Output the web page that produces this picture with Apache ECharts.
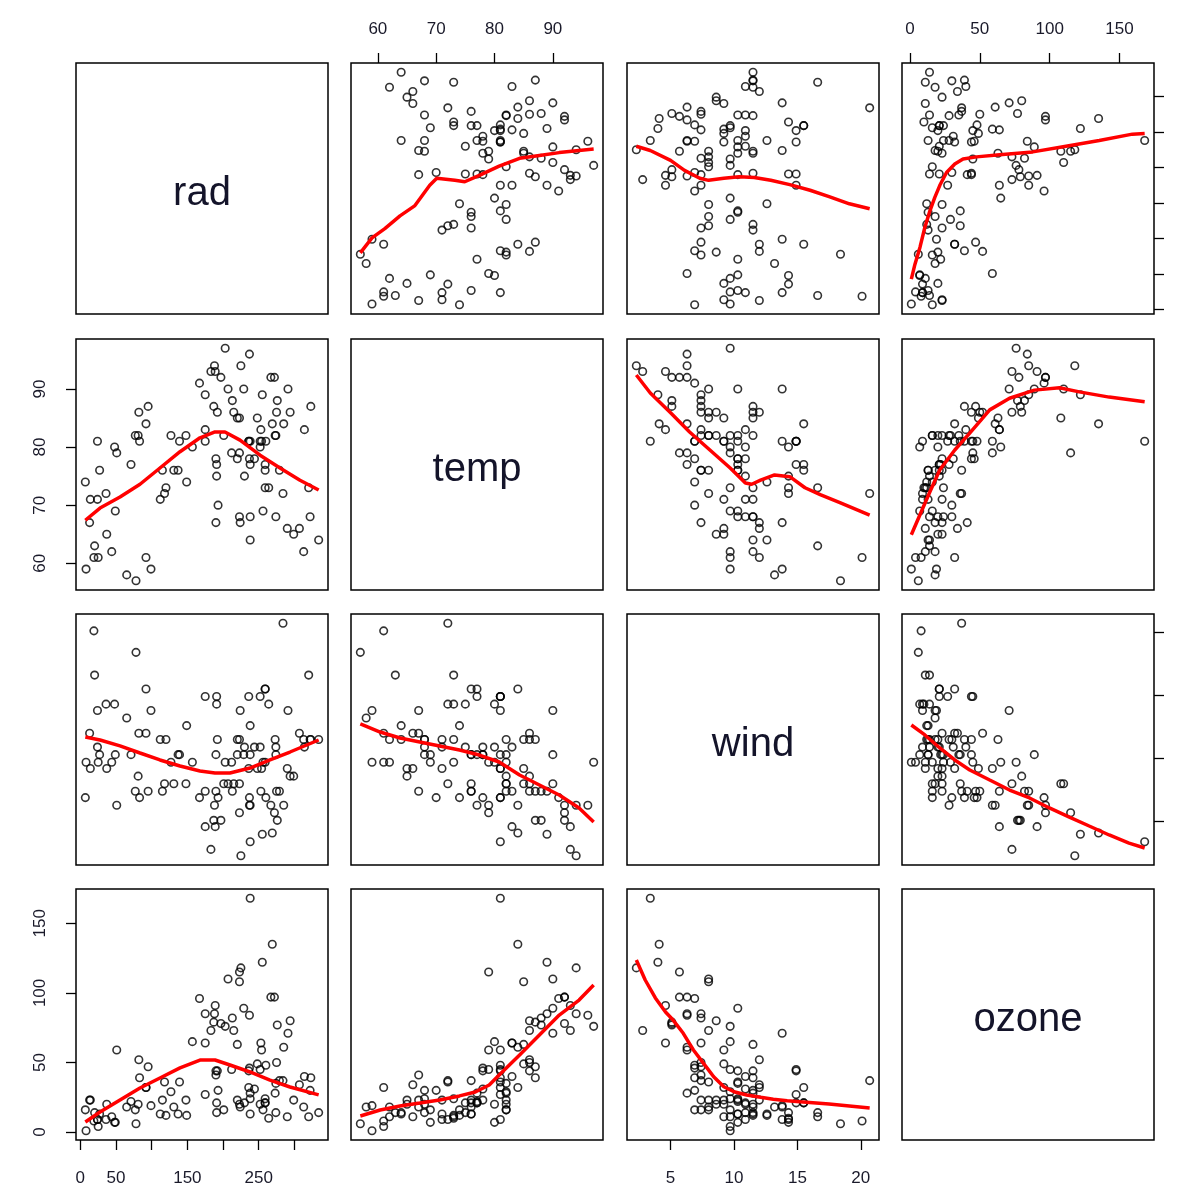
<!DOCTYPE html>
<html><head><meta charset="utf-8">
<script src="https://cdn.jsdelivr.net/npm/echarts@6/dist/echarts.min.js"></script>
<style>html,body{margin:0;padding:0;background:#fff}#c{width:1180px;height:1187px}</style>
</head><body><div id="c"></div>
<script>
// ---- data (111 complete observations) ----
const varNames = ['rad', 'temp', 'wind', 'ozone'];
const rad = [190,118,149,313,299,99,19,256,290,274,65,334,307,78,322,44,8,320,25,92,13,252,223,279,127,291,323,148,191,284,37,120,137,269,248,236,175,314,276,267,272,175,264,175,48,260,274,285,187,220,7,294,223,81,82,213,275,253,254,83,24,77,255,229,207,192,273,157,71,51,115,244,190,259,36,212,238,215,203,225,237,188,167,197,183,189,95,92,252,220,230,259,236,259,238,24,112,237,224,27,238,201,238,14,139,49,20,193,191,131,223];
const temp = [67,72,74,62,65,59,61,69,66,68,58,64,66,57,68,62,59,73,61,61,67,81,79,76,82,90,87,82,77,72,65,73,76,84,85,81,83,83,88,92,92,89,73,81,80,81,82,84,87,85,74,86,85,82,86,88,86,83,81,81,81,82,89,90,90,86,82,80,77,79,76,78,78,77,72,79,81,86,97,94,96,94,91,92,93,93,87,84,80,78,75,73,81,76,77,71,71,78,67,76,68,82,64,71,81,69,63,70,75,76,68];
const wind = [7.4,8.0,12.6,11.5,8.6,13.8,20.1,9.7,9.2,10.9,13.2,11.5,12.0,18.4,11.5,9.7,9.7,16.6,9.7,12.0,12.0,14.9,5.7,7.4,9.7,13.8,11.5,8.0,14.9,20.7,9.2,11.5,10.3,4.1,9.2,9.2,4.6,10.9,5.1,6.3,5.7,7.4,14.3,14.9,14.3,6.9,10.3,6.3,5.1,11.5,6.9,8.6,8.0,8.6,12.0,7.4,7.4,7.4,9.2,6.9,13.8,7.4,4.0,10.3,8.0,11.5,11.5,9.7,10.3,6.3,7.4,10.9,10.3,15.5,14.3,9.7,3.4,8.0,9.7,2.3,6.3,6.3,6.9,5.1,2.8,4.6,7.4,15.5,10.9,10.3,10.9,9.7,14.9,15.5,6.3,10.9,11.5,6.9,13.8,10.3,10.3,8.0,12.6,9.2,10.3,10.3,16.6,6.9,14.3,8.0,11.5];
const ozone = [41,36,12,18,23,19,8,16,11,14,18,14,34,6,30,11,1,11,4,32,23,45,115,37,29,71,39,23,21,37,20,12,13,135,49,32,64,40,77,97,97,85,10,27,7,48,35,61,79,63,16,80,108,20,52,82,50,64,59,39,9,16,122,89,110,44,28,65,22,59,23,31,44,21,9,45,168,73,76,118,84,85,96,78,73,91,47,32,20,23,21,24,44,21,28,9,13,46,18,13,24,16,13,23,36,7,14,30,14,18,20];

// ---- tick values / labels ----
const radTicks = [0, 50, 100, 150, 200, 250, 300];
const radLabels = [0, 50, 150, 250];
const tempTicks = [60, 70, 80, 90];
const windTicks = [5, 10, 15, 20];
const ozoneTicks = [0, 50, 100, 150];

// ---- smoother lines: [x, y] ----
const smoothY_rad_X_temp = [[57,80],[59,101],[61.2,114],[63.8,132],[66.3,146],[68.9,175],[70.1,185],[73.2,182],[74.9,180],[77.4,189],[80.8,202],[84.3,213],[87.7,217],[91.1,221],[94.5,224],[97,226]];
const smoothY_rad_X_wind = [[2.3,230],[3.4,224],[5.0,210],[6.1,196],[7.3,185],[8.0,182],[9.2,185],[10.4,187],[11.6,186],[12.9,182],[14.4,176],[16.0,168],[17.5,159],[19.1,149],[20.7,142]];
const smoothY_rad_X_ozone = [[1,43],[3.6,64],[7.2,88],[10.7,116],[14.3,139],[17.8,158],[21.4,175],[26.2,193],[32.1,205],[38,212],[47.6,215],[64.2,218],[87.9,222],[111.7,230],[135.5,238],[159.2,247],[168,248]];
const smoothY_temp_X_rad = [[7,67.4],[27.6,69.5],[55.6,71.4],[83.6,73.6],[111.6,76.4],[139.7,79.2],[167.7,81.6],[188.7,82.6],[202.7,82.6],[223.8,81.2],[251.9,78.6],[279.8,76.4],[307.8,74.3],[334,72.6]];
const smoothY_temp_X_wind = [[2.3,92.4],[3.4,89.3],[5.0,85.9],[6.5,82.6],[8.1,79.5],[9.7,76.4],[10.9,73.8],[11.4,73.6],[12.1,74.3],[13.2,75.2],[14.4,74.9],[15.6,73.0],[16.8,71.8],[18.4,70.4],[20.7,68.3]];
const smoothY_temp_X_ozone = [[1,64.9],[7.1,68.3],[14.3,72.3],[21.4,76.1],[32.1,79.5],[42.8,82.4],[57.1,86.4],[71.3,88.4],[89.1,89.8],[107,90.2],[121.2,89.5],[142.6,88.6],[168,87.8]];
const smoothY_wind_X_rad = [[7,11.7],[27.6,11.46],[55.6,10.99],[83.6,10.43],[111.6,9.88],[139.7,9.4],[167.7,9.01],[188.7,8.85],[209.7,8.85],[237.8,9.24],[265.8,9.88],[293.8,10.51],[334,11.46]];
const smoothY_wind_X_temp = [[57,12.73],[60.4,12.09],[63.8,11.62],[67.2,11.3],[70.6,10.99],[74,10.67],[77.4,10.27],[80.8,9.72],[84.3,8.69],[87.7,7.9],[91.1,7.11],[94.5,6.08],[97,4.97]];
const smoothY_wind_X_ozone = [[1,12.65],[10.7,11.86],[21.4,10.83],[32.1,9.88],[42.8,9.09],[57.1,8.29],[71.3,7.5],[85.6,6.87],[99.8,6.08],[114.1,5.36],[128.3,4.65],[142.6,3.94],[156.8,3.29],[168,2.91]];
const smoothY_ozone_X_rad = [[7,7.3],[27.6,14.4],[55.6,23.1],[83.6,31.7],[111.6,38.9],[139.7,46.1],[167.7,51.8],[188.7,51.8],[209.7,48.2],[237.8,43.2],[265.8,37.4],[293.8,32.4],[334,26.7]];
const smoothY_ozone_X_temp = [[57,11.6],[60.4,15.9],[63.8,18.8],[67.2,20.9],[70.6,23.1],[74,26],[76.7,28.8],[79.1,33.8],[80.8,41],[84.3,55.4],[87.7,69.8],[91.1,84.1],[94.5,94.9],[97,105.7]];
const smoothY_ozone_X_wind = [[2.3,123.7],[3.0,109.3],[3.8,96.4],[4.6,86.3],[5.2,80.5],[6.0,71],[6.8,59],[7.6,49.4],[8.4,39.8],[9.2,32.6],[10.0,29],[11.0,26.7],[12.1,25],[13.1,23.6],[14.2,22.6],[15.2,21.8],[17.5,20.2],[20.7,17.3]];

// ---- layout ----
const vars = [rad, temp, wind, ozone];
const tickSets = [radTicks, tempTicks, windTicks, ozoneTicks];
const labelSets = [radLabels, tempTicks, windTicks, ozoneTicks];
const smooth = {
  '0_1': smoothY_rad_X_temp, '0_2': smoothY_rad_X_wind, '0_3': smoothY_rad_X_ozone,
  '1_0': smoothY_temp_X_rad, '1_2': smoothY_temp_X_wind, '1_3': smoothY_temp_X_ozone,
  '2_0': smoothY_wind_X_rad, '2_1': smoothY_wind_X_temp, '2_3': smoothY_wind_X_ozone,
  '3_0': smoothY_ozone_X_rad, '3_1': smoothY_ozone_X_temp, '3_2': smoothY_ozone_X_wind
};
const colLeft = [76, 351, 627, 902], rowTop = [63, 339, 614, 889], W = 252, H = 251;
function ext(a) { const mn = Math.min(...a), mx = Math.max(...a), r = mx - mn; return [mn - 0.04 * r, mx + 0.04 * r]; }
const ranges = vars.map(ext);
const FONT = '"Liberation Sans", Arial, sans-serif';
const LABEL_COLOR = '#1a1a2a';

const grid = [], xAxis = [], yAxis = [], series = [], graphic = [];
for (let i = 0; i < 4; i++) {
  for (let j = 0; j < 4; j++) {
    const k = i * 4 + j;
    grid.push({ left: colLeft[j], top: rowTop[i], width: W, height: H, show: true,
      borderColor: '#000', borderWidth: 1.5, backgroundColor: 'transparent',
      containLabel: false, outerBoundsMode: 'none' });
    const showX = (i === 0 && j % 2 === 1) || (i === 3 && j % 2 === 0);
    const showY = (j === 0 && i % 2 === 1) || (j === 3 && i % 2 === 0);
    xAxis.push({ gridIndex: k, type: 'value', min: ranges[j][0], max: ranges[j][1],
      position: i === 0 ? 'top' : 'bottom',
      axisLine: { show: false, onZero: false }, splitLine: { show: false },
      axisTick: { show: showX, customValues: tickSets[j], length: 10, lineStyle: { color: '#000', width: 1.3 } },
      axisLabel: { show: showX, customValues: labelSets[j], margin: i === 0 ? 25 : 30, fontSize: 17, color: LABEL_COLOR, fontFamily: FONT } });
    yAxis.push({ gridIndex: k, type: 'value', min: ranges[i][0], max: ranges[i][1],
      position: j === 0 ? 'left' : 'right',
      axisLine: { show: false, onZero: false }, splitLine: { show: false },
      axisTick: { show: showY, customValues: tickSets[i], length: 10, lineStyle: { color: '#000', width: 1.3 } },
      axisLabel: { show: showY, customValues: labelSets[i], margin: 27, rotate: 90, fontSize: 17, color: LABEL_COLOR, fontFamily: FONT } });
    if (i === j) {
      graphic.push({ type: 'text', x: colLeft[j] + W / 2, y: rowTop[i] + H / 2 + 5, silent: true,
        style: { text: varNames[i], fontSize: 40, fontFamily: FONT, fill: '#14142a',
          textAlign: 'center', textVerticalAlign: 'middle', align: 'center', verticalAlign: 'middle' } });
    } else {
      series.push({ type: 'scatter', xAxisIndex: k, yAxisIndex: k, silent: true,
        data: vars[j].map((v, n) => [v, vars[i][n]]),
        symbol: 'circle', symbolSize: 7.5,
        itemStyle: { color: 'rgba(0,0,0,0)', borderColor: '#000', borderWidth: 1.6 } });
      series.push({ type: 'line', xAxisIndex: k, yAxisIndex: k, silent: true, z: 5,
        data: smooth[i + '_' + j], showSymbol: false, symbol: 'none',
        lineStyle: { color: '#ff0000', width: 3.5 } });
    }
  }
}

const chart = echarts.init(document.getElementById('c'), null, { renderer: 'canvas' });
chart.setOption({ animation: false, backgroundColor: '#fff', grid, xAxis, yAxis, series, graphic });
</script>
</body></html>
